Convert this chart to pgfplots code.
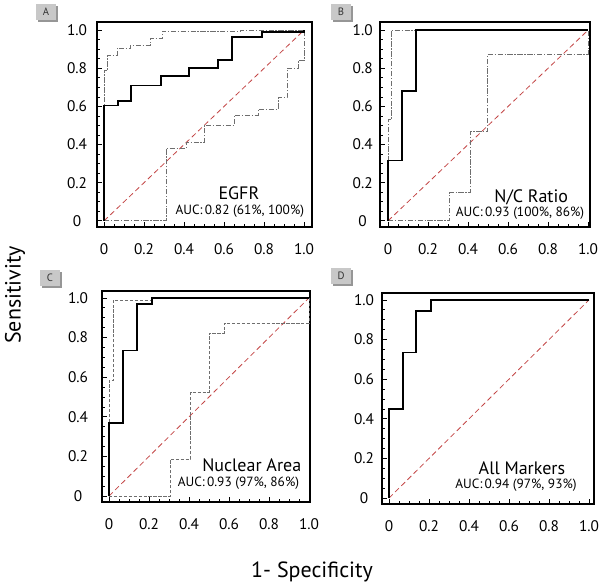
\documentclass[border=0pt]{standalone}
\usepackage{pgfplots}
\pgfplotsset{compat=1.18}
\usepackage{fontspec}
\setmainfont{PT Sans}
\definecolor{diagred}{RGB}{195,70,70}
\definecolor{bandgray}{RGB}{110,110,110}
\definecolor{boxgray}{RGB}{200,200,200}
\definecolor{shadowgray}{RGB}{150,150,150}
\tikzset{
  big/.style={font=\fontsize{13.5}{15}\selectfont},
  auc/.style={font=\fontsize{10}{12}\selectfont, anchor=east},
}
\pgfplotsset{
  rocax/.style={
    scale only axis,
    anchor=south west,
    axis line style={line width=1.1pt},
    tick pos=left,
    tick align=inside,
    major tick length=4pt,
    minor tick length=2.2pt,
    every tick/.style={line width=0.6pt, black},
    xtick={0,0.2,0.4,0.6,0.8,1.0},
    ytick={0,0.2,0.4,0.6,0.8,1.0},
    xticklabels={0,0.2,0.4,0.6,0.8,1.0},
    yticklabels={0,0.2,0.4,0.6,0.8,1.0},
    minor x tick num=3,
    minor y tick num=3,
    /pgf/number format/assume math mode=true,
    tick label style={font=\fontsize{11.5}{14}\selectfont},
    xticklabel style={yshift=-9pt},
    clip=false,
  },
  solidroc/.style={black, line width=1.4pt, line join=miter},
  band/.style={bandgray, line width=0.6pt, dash pattern=on 4pt off 1.2pt on 1pt off 1.2pt},
  bandc/.style={bandgray, line width=0.6pt, dash pattern=on 2.5pt off 1.2pt},
  diag/.style={diagred, line width=0.6pt, dash pattern=on 4pt off 2.5pt},
}
% #1 = left x (px), #2 = top y (px, from top), #3 = letter
\newcommand{\panelbox}[3]{%
  \fill[shadowgray] (#1+2,586-#2-18) rectangle (#1+22,586-#2-2);
  \fill[boxgray] (#1,586-#2-16) rectangle (#1+20,586-#2);
  \node[font=\fontsize{8}{9}\selectfont, text=black!80] at (#1+10,586-#2-8) {#3};
}
\begin{document}
\begin{tikzpicture}[x=0.75pt, y=0.75pt]
\useasboundingbox (0,0) rectangle (600,586);

% ---------------- Panel A ----------------
\begin{axis}[rocax, at={(72.75pt,269.25pt)}, width=161.25pt, height=153.75pt,
  xmin=-0.035, xmax=1.04, ymin=-0.032, ymax=1.043,
  yticklabel style={anchor=center, xshift=-15pt}]
\addplot[diag] coordinates {(0,0) (1,1)};
\addplot[band] coordinates {(0,0) (0,0.79) (0.018,0.79) (0.018,0.87) (0.065,0.87) (0.065,0.905) (0.13,0.905) (0.13,0.92) (0.23,0.92) (0.23,0.955) (0.29,0.955) (0.29,0.995) (0.68,0.995) (0.68,1.0) (1,1)};
\addplot[band] coordinates {(0,0) (0.31,0) (0.31,0.38) (0.41,0.38) (0.41,0.41) (0.50,0.41) (0.50,0.50) (0.65,0.50) (0.65,0.555) (0.77,0.555) (0.77,0.585) (0.87,0.585) (0.87,0.645) (0.915,0.645) (0.915,0.80) (0.97,0.80) (0.97,0.84) (1.0,0.84) (1.0,1.0)};
\addplot[solidroc] coordinates {(0,0) (0,0.605) (0.07,0.605) (0.07,0.63) (0.137,0.63) (0.137,0.71) (0.283,0.71) (0.283,0.76) (0.425,0.76) (0.425,0.80) (0.57,0.80) (0.57,0.845) (0.64,0.845) (0.64,0.965) (0.79,0.965) (0.79,0.99) (1.0,0.99) (1,1)};
\node[big] at (rel axis cs:0.66,0.165) {EGFR};
\node[auc] at (rel axis cs:0.985,0.078) {AUC:\,0.82 (61\%, 100\%)};
\end{axis}

% ---------------- Panel B ----------------
\begin{axis}[rocax, at={(285pt,269.25pt)}, width=157.5pt, height=153.75pt,
  xmin=-0.04, xmax=1.01, ymin=-0.032, ymax=1.043,
  yticklabel style={anchor=center, xshift=-13pt}]
\addplot[diag] coordinates {(0,0) (1,1)};
\addplot[band] coordinates {(0,0) (0,0.53) (0.017,0.53) (0.017,1.0) (1,1)};
\addplot[band] coordinates {(0,0) (0.307,0) (0.307,0.148) (0.41,0.148) (0.41,0.469) (0.498,0.469) (0.498,0.874) (1.0,0.874) (1.0,1.0)};
\addplot[solidroc] coordinates {(0,0) (0,0.317) (0.07,0.317) (0.07,0.68) (0.14,0.68) (0.14,1.0) (1,1)};
\node[big] at (rel axis cs:0.72,0.145) {N/C Ratio};
\node[auc] at (rel axis cs:0.995,0.065) {AUC:\,0.93 (100\%, 86\%)};
\end{axis}

% ---------------- Panel C ----------------
\begin{axis}[rocax, at={(76.5pt,63pt)}, width=156pt, height=158.25pt,
  xmin=-0.035, xmax=1.005, ymin=-0.03, ymax=1.035,
  yticklabel style={anchor=center, xshift=-18pt}]
\addplot[diag] coordinates {(0,0) (1,1)};
\addplot[bandc] coordinates {(0,0) (0,0.583) (0.021,0.583) (0.021,0.99) (0.215,0.99) (0.215,1.0) (1,1)};
\addplot[bandc] coordinates {(0,0) (0.306,0) (0.306,0.186) (0.408,0.186) (0.408,0.524) (0.5,0.524) (0.5,0.823) (0.575,0.823) (0.575,0.873) (1.0,0.873) (1.0,1.0)};
\addplot[solidroc] coordinates {(0,0) (0,0.367) (0.071,0.367) (0.071,0.735) (0.14,0.735) (0.14,0.971) (0.215,0.971) (0.215,1.0) (1,1)};
\node[big] at (rel axis cs:0.72,0.175) {Nuclear Area};
\node[auc] at (rel axis cs:0.97,0.088) {AUC:\,0.93 (97\%, 86\%)};
\end{axis}

% ---------------- Panel D ----------------
\begin{axis}[rocax, at={(286.5pt,61.5pt)}, width=159pt, height=158.25pt,
  xmin=-0.035, xmax=1.025, ymin=-0.03, ymax=1.035,
  yticklabel style={anchor=center, xshift=-13.5pt}]
\addplot[diag] coordinates {(0,0) (1,1)};
\addplot[solidroc] coordinates {(0,0) (0,0.448) (0.07,0.448) (0.07,0.735) (0.136,0.735) (0.136,0.946) (0.211,0.946) (0.211,1.0) (1,1)};
\node[big] at (rel axis cs:0.66,0.17) {All Markers};
\node[auc] at (rel axis cs:0.94,0.088) {AUC:\,0.94 (97\%, 93\%)};
\end{axis}

% panel letters
\panelbox{36}{4}{A}
\panelbox{331}{4}{B}
\panelbox{40}{270}{C}
\panelbox{331}{268}{D}

% axis titles
\node[rotate=90, font=\fontsize{16.5}{18}\selectfont] at (15,291) {Sensitivity};
\node[font=\fontsize{16.5}{18}\selectfont] at (312,14) {1- Specificity};
\end{tikzpicture}
\end{document}
